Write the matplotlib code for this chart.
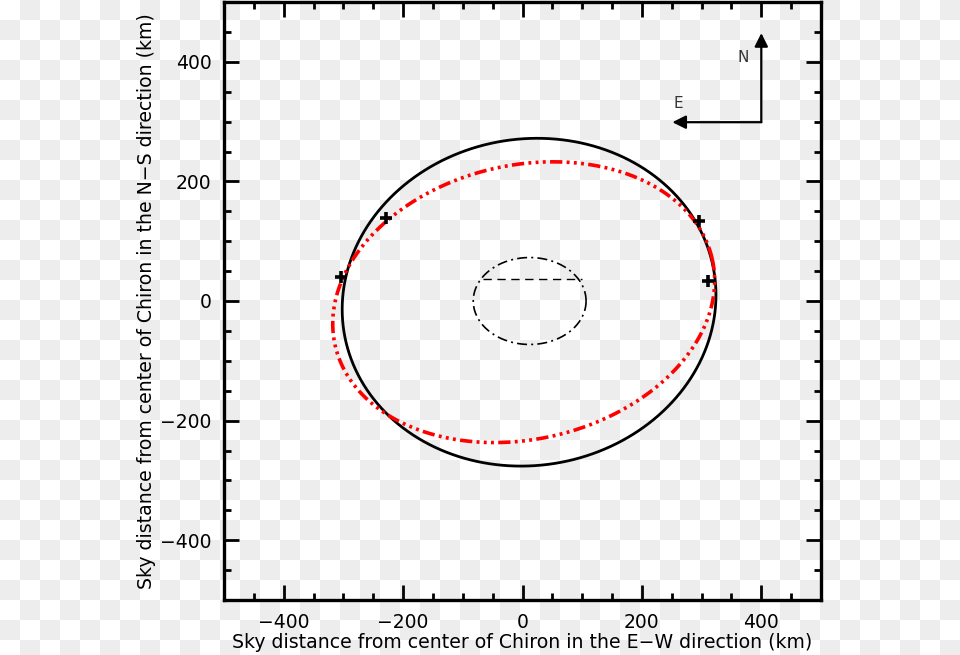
import numpy as np
import matplotlib
matplotlib.use("Agg")
import matplotlib.pyplot as plt
from matplotlib.ticker import MultipleLocator

# --- data (km) ---
# outer solid ellipse: center x, center y, semi-major, semi-minor, angle(deg)
solid_ellipse = [11, -2, 314, 273, 9]
# red dash-dot-dot-dot ellipse
red_ellipse = [2, -2, 324, 229, 13]
# small inner dash-dot ellipse
inner_ellipse = [12, 0, 94.5, 72.7, 0]
# dashed chord inside the inner ellipse
chord_x = [-67, 100]
chord_y = [37, 37]
# measured chord points (+)
points_x = [-304, -229, 296, 311]
points_y = [40, 138, 134, 33]
# compass
arrow_origin = [400, 299]
arrow_north_tip = [400, 448]
arrow_east_tip = [251, 299]
label_n = ["N", 370, 407]
label_e = ["E", 261, 331]
xticks = [-400, -200, 0, 200, 400]
yticks = [-400, -200, 0, 200, 400]

W, H = 960, 655
fig = plt.figure(figsize=(W / 100, H / 100), dpi=100, facecolor="white")

# checkerboard background
yy, xx = np.mgrid[0:H, 0:W]
chk = ((xx // 20 + yy // 20) % 2).astype(float)
img = np.where(chk[..., None] > 0, np.array([0.933, 0.933, 0.933]), np.array([1.0, 1.0, 1.0]))
fig.figimage(img, xo=0, yo=0, zorder=-10, origin="upper")

ax = fig.add_axes([224 / W, 1 - 600 / H, 597 / W, 598 / H])
ax.set_zorder(1)
ax.set_facecolor("none")
ax.set_xlim(-500, 500)
ax.set_ylim(-500, 500)

def draw_ellipse(p, **kw):
    cx, cy, a, b, ang = p
    t = np.linspace(0, 2 * np.pi, 721)
    th = np.deg2rad(ang)
    x = cx + a * np.cos(t) * np.cos(th) - b * np.sin(t) * np.sin(th)
    y = cy + a * np.cos(t) * np.sin(th) + b * np.sin(t) * np.cos(th)
    ax.plot(x, y, **kw)

draw_ellipse(solid_ellipse, color="black", lw=2.0, solid_capstyle="butt")
draw_ellipse(red_ellipse, color="red", lw=2.6,
             linestyle=(0, (3.4, 1.2, 0.8, 1.2, 0.8, 1.2, 0.8, 1.2)))
draw_ellipse(inner_ellipse, color="black", lw=1.2,
             linestyle=(0, (6, 2.5, 1.2, 2.5)))
ax.plot(chord_x, chord_y, color="black", lw=1.0, linestyle=(0, (6, 4)))
ax.plot(points_x, points_y, linestyle="none", marker="+", color="black",
        markersize=8, markeredgewidth=2.6)

# compass arrows
ax.annotate("", xy=arrow_north_tip, xytext=arrow_origin,
            arrowprops=dict(arrowstyle="-|>", color="black", lw=1.6,
                            mutation_scale=20, shrinkA=0, shrinkB=0))
ax.annotate("", xy=arrow_east_tip, xytext=arrow_origin,
            arrowprops=dict(arrowstyle="-|>", color="black", lw=1.6,
                            mutation_scale=20, shrinkA=0, shrinkB=0))
ax.text(label_n[1], label_n[2], label_n[0], fontsize=11, ha="center", va="center", color="#333333")
ax.text(label_e[1], label_e[2], label_e[0], fontsize=11, ha="center", va="center", color="#333333")

ax.set_xticks(xticks)
ax.set_yticks(yticks)
ax.set_xticklabels(["\u2212400", "\u2212200", "0", "200", "400"])
ax.set_yticklabels(["\u2212400", "\u2212200", "0", "200", "400"])
ax.xaxis.set_minor_locator(MultipleLocator(50))
ax.yaxis.set_minor_locator(MultipleLocator(50))
ax.tick_params(which="both", direction="in", top=True, right=True, width=2, color="black")
ax.tick_params(which="major", length=11, labelsize=13.5, pad=9)
ax.tick_params(which="minor", length=5)
for s in ax.spines.values():
    s.set_linewidth(2.4)

ax.set_xlabel("Sky distance from center of Chiron in the E\u2212W direction (km)", fontsize=13.6, labelpad=1)
ax.set_ylabel("Sky distance from center of Chiron in the N\u2212S direction (km)", fontsize=13.6, labelpad=3)

fig.savefig("out.png", dpi=100)
